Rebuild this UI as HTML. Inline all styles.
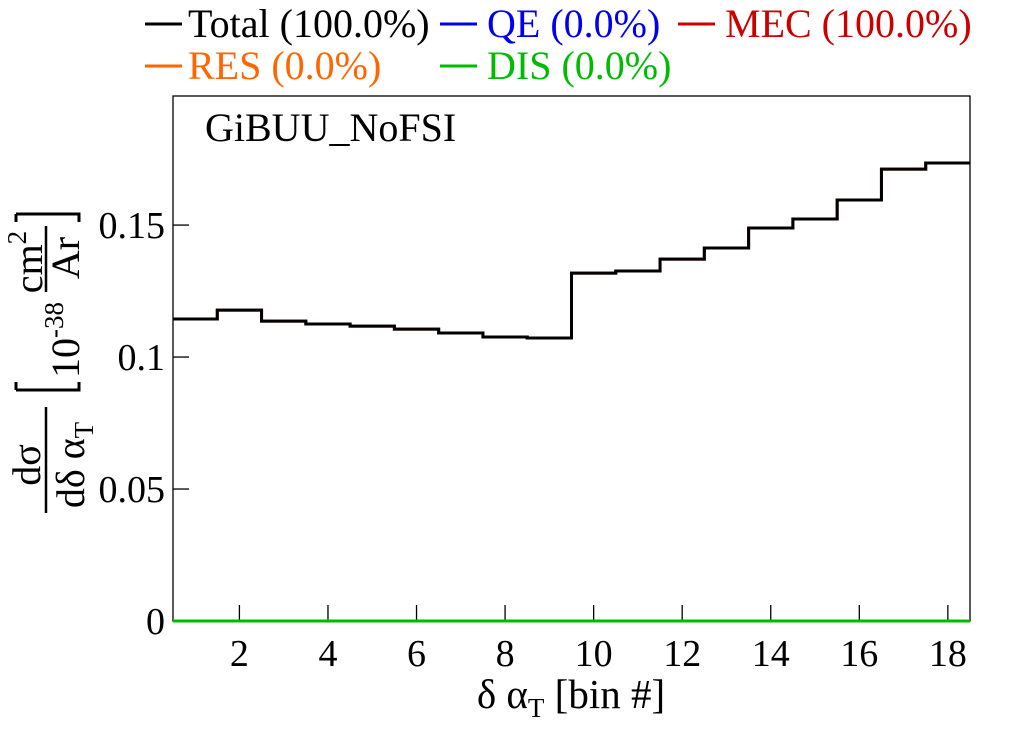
<!DOCTYPE html>
<html><head><meta charset="utf-8"><style>
body{margin:0;background:#fff}
svg{display:block;font-family:"Liberation Serif",serif}
</style></head><body>
<svg width="1020" height="740" viewBox="0 0 1020 740">
<rect width="1020" height="740" fill="#fff"/>
<g id="plot"></g>
<text x="205" y="141" font-size="40">GiBUU_NoFSI</text>
<g font-size="40">
 <g><line x1="145" y1="24" x2="182" y2="24" stroke="#000" stroke-width="3"/><text x="188" y="37" fill="#000">Total (100.0%)</text></g>
 <g><line x1="440" y1="24" x2="477" y2="24" stroke="#0000ee" stroke-width="3"/><text x="487" y="37" fill="#0000ee">QE (0.0%)</text></g>
 <g><line x1="678" y1="24" x2="715" y2="24" stroke="#cc0000" stroke-width="3"/><text x="725" y="37" fill="#cc0000">MEC (100.0%)</text></g>
 <g><line x1="145" y1="66" x2="182" y2="66" stroke="#ff6600" stroke-width="3"/><text x="188" y="79" fill="#ff6600">RES (0.0%)</text></g>
 <g><line x1="440" y1="66" x2="477" y2="66" stroke="#00bb00" stroke-width="3"/><text x="487" y="79" fill="#00bb00">DIS (0.0%)</text></g>
</g>
<text x="571" y="708" font-size="41" text-anchor="middle">δ α<tspan font-size="27" dy="9">T</tspan><tspan dy="-9"> [bin #]</tspan></text>
<g fill="#000">
 <text transform="translate(40,465) rotate(-90)" font-size="40" text-anchor="middle">dσ</text>
 <line x1="46" y1="407" x2="46" y2="513" stroke="#000" stroke-width="2.5"/>
 <text transform="translate(84,465) rotate(-90)" font-size="40" text-anchor="middle">dδ α<tspan font-size="27" dy="9">T</tspan></text>
 <path d="M25,214 L8,214 L8,390 L25,390" fill="none" stroke="#000" stroke-width="3" transform="rotate(-90 0 0)" style="display:none"/>
 <path d="M16,390 L16,382 M16,390 L79,390 L79,382" fill="none" stroke="#000" stroke-width="3"/>
 <path d="M16,214 L16,222 M16,214 L79,214 L79,222" fill="none" stroke="#000" stroke-width="3"/>
 <text transform="translate(79,378) rotate(-90)" font-size="40">10<tspan font-size="27" dy="-16">-38</tspan></text>
 <text transform="translate(42,262) rotate(-90)" font-size="40" text-anchor="middle">cm<tspan font-size="27" dy="-16">2</tspan></text>
 <line x1="46" y1="226" x2="46" y2="292" stroke="#000" stroke-width="2.5"/>
 <text transform="translate(79,258) rotate(-90)" font-size="40" text-anchor="middle">Ar</text>
</g>
</svg>
<script>
const binCenters=[1,2,3,4,5,6,7,8,9,10,11,12,13,14,15,16,17,18];
const totalValues=[0.1144,0.1178,0.1136,0.1125,0.1117,0.1106,0.1091,0.1076,0.1072,0.1318,0.1326,0.1371,0.1413,0.1489,0.1523,0.1595,0.1712,0.1735];
const zeroValues=[0,0,0,0,0,0,0,0,0,0,0,0,0,0,0,0,0,0];
const xTicks=[2,4,6,8,10,12,14,16,18];
const yTicks=[0,0.05,0.1,0.15];
const yTickLabels=["0","0.05","0.1","0.15"];
const L=173,R=970,T=96,B=621,xmin=0.5,xmax=18.5,ymin=0,ymax=0.1989;
const X=v=>L+(v-xmin)/(xmax-xmin)*(R-L);
const Y=v=>B-(v-ymin)/(ymax-ymin)*(B-T);
const NS="http://www.w3.org/2000/svg";
const g=document.getElementById('plot');
function mk(t,a){const e=document.createElementNS(NS,t);for(const k in a)e.setAttribute(k,a[k]);g.appendChild(e);return e;}
const fr=mk('rect',{x:L,y:T,width:R-L,height:B-T,fill:'none',stroke:'#000','stroke-width':1.3});


xTicks.forEach(t=>{
 const l=mk('line',{x1:X(t),x2:X(t),y1:B,y2:B-16,stroke:'#000','stroke-width':1.3});
 
 
 const tx=mk('text',{x:X(t),y:B+45,'font-size':38,'text-anchor':'middle'});tx.textContent=t;
 
 
});
yTicks.forEach((t,i)=>{
 const l=mk('line',{x1:L,x2:L+16,y1:Y(t),y2:Y(t),stroke:'#000','stroke-width':1.3});
 
 
 const tx=mk('text',{x:L-8,y:Y(t)+13,'font-size':38,'text-anchor':'end'});tx.textContent=yTickLabels[i];
 
 
});
function hist(vals,color,name){
 let d='';
 binCenters.forEach((c,i)=>{const x0=X(c-0.5),x1=X(c+0.5),y=Y(vals[i]);d+=(i?'L':'M')+x0+','+y+'L'+x1+','+y;});
 const p=mk('path',{d:d,fill:'none',stroke:color,'stroke-width':3});
 
 
}
hist(zeroValues,'#0000ee','qe-series');
hist(zeroValues,'#ff6600','res-series');
hist(zeroValues,'#00bb00','dis-series');
hist(totalValues,'#cc0000','mec-series');
hist(totalValues,'#000','total-series');
</script>
</body></html>
